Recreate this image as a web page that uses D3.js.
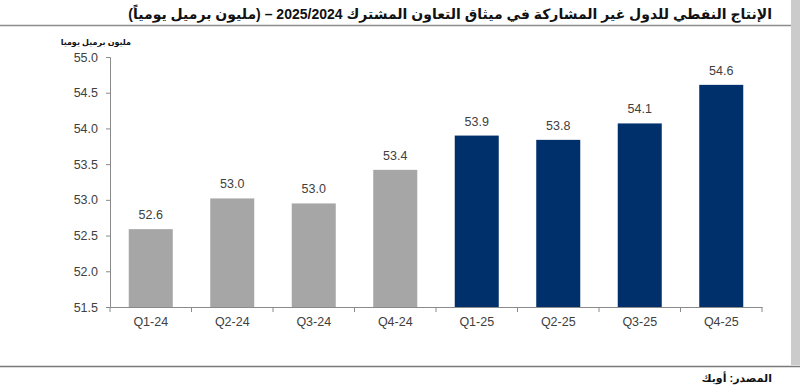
<!DOCTYPE html>
<html>
<head>
<meta charset="utf-8">
<script src="https://cdn.jsdelivr.net/npm/d3@7"></script>
<style>
body { margin: 0; background: #fff; }
svg { display: block; }
</style>
</head>
<body>
<script>
var categories = ["Q1-24", "Q2-24", "Q3-24", "Q4-24", "Q1-25", "Q2-25", "Q3-25", "Q4-25"];
var values = [52.59, 53.02, 52.95, 53.42, 53.9, 53.84, 54.07, 54.61];
var yTicks = [51.5, 52.0, 52.5, 53.0, 53.5, 54.0, 54.5, 55.0];
var title = "الإنتاج النفطي للدول غير المشاركة في ميثاق التعاون المشترك 2025/2024 –  (مليون برميل يومياً)";
var unitLabel = "مليون برميل يوميا";
var source = "المصدر: أوبك";

var width = 800, height = 388;
var margin = {left: 110, right: 38, top: 57, bottom: 81};

var svg = d3.select("body").append("svg").attr("width", width).attr("height", height);

// frame bits
svg.append("rect").attr("x", 791).attr("y", 0).attr("width", 9).attr("height", 365).attr("fill", "#cbcbcb");
svg.append("line").attr("x1", 0).attr("x2", 791).attr("y1", 25.5).attr("y2", 25.5)
    .attr("stroke", "#8c8c8c").attr("stroke-width", 1.5);
svg.append("line").attr("x1", 0).attr("x2", 800).attr("y1", 366.5).attr("y2", 366.5)
    .attr("stroke", "#7a7a7a").attr("stroke-width", 1.5);

function rtlText(tx, ty, size, txt) {
    return svg.append("text").attr("x", tx).attr("y", ty)
        .attr("direction", "rtl").attr("text-anchor", "start")
        .attr("font-family", "Liberation Sans, DejaVu Sans, sans-serif").attr("font-weight", "bold")
        .attr("font-size", size).attr("fill", "#111").text(txt);
}

rtlText(772, 19, 14, title);
rtlText(772, 382, 11, source);
rtlText(131, 45, 8, unitLabel);

var x = d3.scaleBand().domain(categories).range([margin.left, width - margin.right]).paddingInner(0.46).paddingOuter(0.23);
var y = d3.scaleLinear().domain([51.5, 55.0]).range([height - margin.bottom, margin.top]);

var xAxis = svg.append("g").attr("transform", "translate(0," + (height - margin.bottom) + ")")
    .call(d3.axisBottom(x).tickSize(0).tickPadding(10));
xAxis.select(".domain").attr("stroke", "#8a8a8a");

// category boundary ticks
var bounds = d3.range(categories.length + 1).map(function(i) { return margin.left + i * ((width - margin.right - margin.left) / categories.length); });
xAxis.selectAll(".bt").data(bounds).enter().append("line")
    .attr("x1", function(d) { return d; }).attr("x2", function(d) { return d; })
    .attr("y1", 0).attr("y2", 5).attr("stroke", "#8a8a8a");

var yAxis = svg.append("g").attr("transform", "translate(" + margin.left + ",0)")
    .call(d3.axisLeft(y).tickValues(yTicks).tickFormat(d3.format(".1f")).tickSize(4).tickPadding(8));
yAxis.select(".domain").attr("stroke", "#8a8a8a");
yAxis.selectAll(".tick line").attr("stroke", "#8a8a8a");

svg.selectAll(".tick text").attr("font-family", "Liberation Sans, Arial, sans-serif")
    .attr("font-size", 12.5).attr("fill", "#404040");

svg.selectAll(".bar").data(values).enter().append("rect")
    .attr("x", function(d, i) { return x(categories[i]); })
    .attr("width", x.bandwidth())
    .attr("y", function(d) { return y(d); })
    .attr("height", function(d) { return y(51.5) - y(d); })
    .attr("fill", function(d, i) { return i < 4 ? "#a6a6a6" : "#00306b"; });

svg.selectAll(".lbl").data(values).enter().append("text")
    .attr("x", function(d, i) { return x(categories[i]) + x.bandwidth() / 2; })
    .attr("y", function(d) { return y(d) - 10; })
    .attr("text-anchor", "middle")
    .attr("font-family", "Liberation Sans, Arial, sans-serif")
    .attr("font-size", 12.5).attr("fill", "#404040")
    .text(function(d) { return d.toFixed(1); });
</script>
</body>
</html>
